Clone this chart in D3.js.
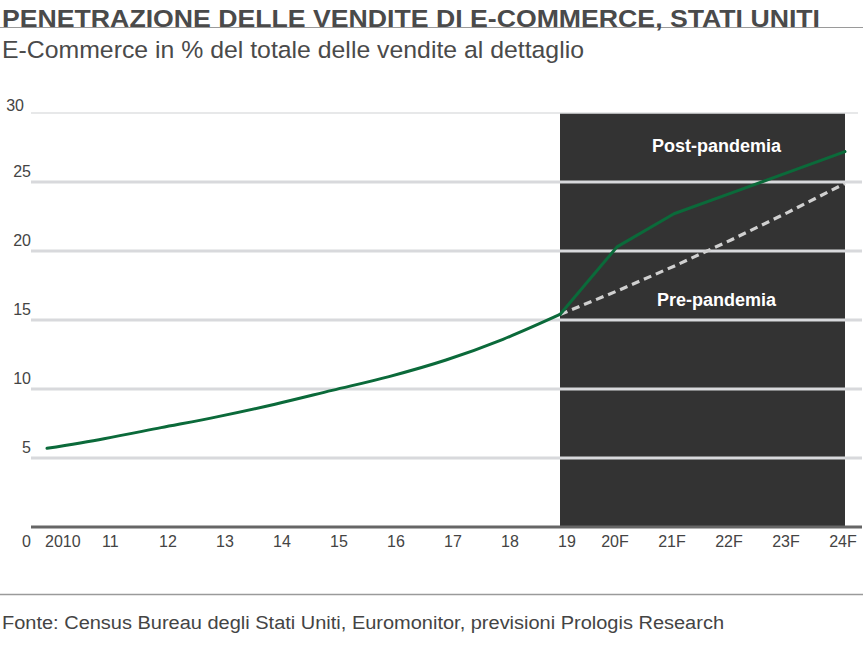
<!DOCTYPE html>
<html>
<head>
<meta charset="utf-8">
<script src="https://cdn.jsdelivr.net/npm/d3@7"></script>
<style>
  body { margin: 0; background: #fff; }
  svg { display: block; }
  text { font-family: "Liberation Sans", Arial, Helvetica, sans-serif; }
</style>
</head>
<body>
<svg id="chart" width="868" height="650"></svg>
<script>
// ---- data ----
const categories = ["2010","11","12","13","14","15","16","17","18","19","20F","21F","22F","23F","24F"];
const postPandemia = [5.7, 6.4, 7.2, 8.0, 8.9, 9.9, 10.9, 12.1, 13.6, 15.4, 20.3, 22.7, 24.2, 25.7, 27.2];
const prePandemiaCats = ["19","20F","21F","22F","23F","24F"];
const prePandemia = [15.4, 17.1, 18.9, 20.8, 22.8, 24.9];
const yTicks = [0, 5, 10, 15, 20, 25, 30];
const forecastRange = ["19", "24F"];

const titleText = "PENETRAZIONE DELLE VENDITE DI E-COMMERCE, STATI UNITI";
const subtitleText = "E-Commerce in % del totale delle vendite al dettaglio";
const sourceText = "Fonte: Census Bureau degli Stati Uniti, Euromonitor, previsioni Prologis Research";
const postLabel = "Post-pandemia";
const preLabel = "Pre-pandemia";

// ---- layout ----
const svg = d3.select("#chart");
const gridLeft = 31, gridRight = 862;
const x = d3.scalePoint().domain(categories).range([47, 845]);
const y = d3.scaleLinear().domain([0, 30]).range([527, 113]);

// title + rule
svg.append("line").attr("x1", 0).attr("x2", 863).attr("y1", 27.5).attr("y2", 27.5)
  .attr("stroke", "#9a9a9a").attr("stroke-width", 1.2);
svg.append("text").attr("x", 2).attr("y", 27)
  .attr("font-size", 24.5).attr("font-weight", "bold").attr("fill", "#4a4a4a")
  .attr("textLength", 818).attr("lengthAdjust", "spacingAndGlyphs")
  .text(titleText);
svg.append("text").attr("x", 2).attr("y", 58)
  .attr("font-size", 24.5).attr("fill", "#4a4a4a")
  .attr("textLength", 582).attr("lengthAdjust", "spacingAndGlyphs")
  .text(subtitleText);

// forecast shaded region
svg.append("rect")
  .attr("x", x(forecastRange[0]))
  .attr("y", y(30))
  .attr("width", x(forecastRange[1]) - x(forecastRange[0]))
  .attr("height", y(0) - y(30))
  .attr("fill", "#333333");

// gridlines
svg.append("g").selectAll("line").data(yTicks.filter(d => d > 0)).join("line")
  .attr("x1", gridLeft).attr("x2", d => d === 30 ? 858 : gridRight)
  .attr("y1", d => y(d)).attr("y2", d => y(d))
  .attr("stroke", d => d === 30 ? "#dfe0e2" : "#d8d9dc")
  .attr("stroke-width", d => d === 30 ? 1.5 : 3);

// baseline axis
svg.append("line").attr("x1", gridLeft).attr("x2", gridRight)
  .attr("y1", y(0)).attr("y2", y(0))
  .attr("stroke", "#666666").attr("stroke-width", 3);

// y labels
svg.append("g").selectAll("text").data(yTicks).join("text")
  .attr("x", d => d === 30 ? 24 : 31)
  .attr("y", d => d === 0 ? 547 : (d === 30 ? y(d) - 2 : y(d) - 5.5))
  .attr("text-anchor", "end")
  .attr("font-size", 16).attr("fill", "#444")
  .text(d => d);

// x labels
svg.append("g").selectAll("text").data(categories).join("text")
  .attr("x", d => x(d) - 2)
  .attr("y", 547)
  .attr("text-anchor", d => d.endsWith("F") ? "middle" : "start")
  .attr("font-size", 16).attr("fill", "#444")
  .text(d => d);

// lines
const pts = categories.map((c, i) => [c, postPandemia[i]]);
const splitIdx = categories.indexOf(forecastRange[0]);
const histLine = d3.line().x(d => x(d[0])).y(d => y(d[1])).curve(d3.curveMonotoneX);
const lin = d3.line().x(d => x(d[0])).y(d => y(d[1]));

svg.append("path")
  .datum(prePandemiaCats.map((c, i) => [c, prePandemia[i]]))
  .attr("d", lin).attr("fill", "none")
  .attr("stroke", "#d0d0d0").attr("stroke-width", 3.2)
  .attr("stroke-dasharray", "8,5");
svg.append("path")
  .datum(pts.slice(0, splitIdx + 1))
  .attr("d", histLine).attr("fill", "none")
  .attr("stroke", "#0b6a3a").attr("stroke-width", 3)
  .attr("stroke-linecap", "round");
svg.append("path")
  .datum(pts.slice(splitIdx))
  .attr("d", lin).attr("fill", "none")
  .attr("stroke", "#0b6a3a").attr("stroke-width", 3)
  .attr("stroke-linejoin", "round").attr("stroke-linecap", "round");

// annotations
const annX = (x("21F") + x("22F")) / 2 + 14;
svg.append("text").attr("x", annX).attr("y", y(27.2))
  .attr("text-anchor", "middle").attr("font-size", 18).attr("font-weight", "bold")
  .attr("fill", "#ffffff").text(postLabel);
svg.append("text").attr("x", annX).attr("y", y(16))
  .attr("text-anchor", "middle").attr("font-size", 18).attr("font-weight", "bold")
  .attr("fill", "#ffffff").text(preLabel);

// source
svg.append("line").attr("x1", 0).attr("x2", 863).attr("y1", 594.5).attr("y2", 594.5)
  .attr("stroke", "#9a9a9a").attr("stroke-width", 1.5);
svg.append("text").attr("x", 2).attr("y", 629)
  .attr("font-size", 18).attr("fill", "#444")
  .attr("textLength", 722).attr("lengthAdjust", "spacingAndGlyphs")
  .text(sourceText);
</script>
</body>
</html>
